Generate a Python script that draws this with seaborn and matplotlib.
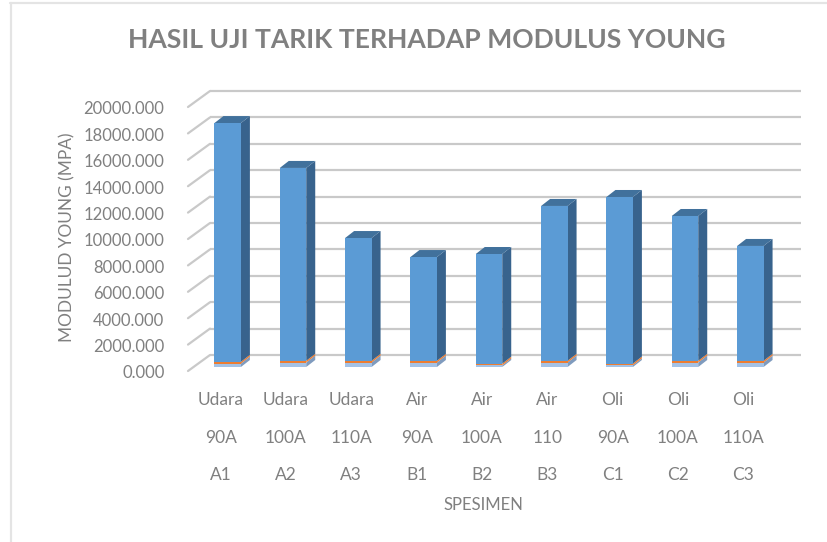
import matplotlib
matplotlib.use("Agg")
import matplotlib.pyplot as plt
import matplotlib.transforms as mtransforms
from matplotlib.colors import to_hex
from matplotlib.lines import Line2D
from matplotlib.patches import Polygon
import numpy as np
import seaborn as sns

media = ["Udara", "Udara", "Udara", "Air", "Air", "Air", "Oli", "Oli", "Oli"]
hardness = ["90A", "100A", "110A", "90A", "100A", "110", "90A", "100A", "110A"]
codes = ["A1", "A2", "A3", "B1", "B2", "B3", "C1", "C2", "C3"]
base_values = [260, 340, 340, 340, 120, 340, 130, 340, 340]
thin_values = [130, 130, 130, 130, 130, 130, 130, 130, 130]
modulus_values = [18090, 14610, 9300, 7860, 8310, 11730, 12620, 10970, 8700]
yticks = [0, 2000, 4000, 6000, 8000, 10000, 12000, 14000, 16000, 18000, 20000]

W, H = 828, 542
sns.set_theme(style="white")
plt.rcParams["font.family"] = ["Lato", "DejaVu Sans"]
GREY = "#808080"
PIXELS = mtransforms.IdentityTransform()

fig = plt.figure(figsize=(W / 100, H / 100), dpi=100)
ax = fig.add_axes([195 / W, 1 - 371 / H, 588 / W, 264 / H])
ax.patch.set_alpha(0)


def shifted(dx, dy):
    return mtransforms.offset_copy(ax.transData, fig, x=dx, y=dy, units="dots")


base = np.array(base_values)
thin = np.array(thin_values)
main = np.array(modulus_values)

bar_kws = dict(saturation=1, width=0.405, ax=ax, zorder=4, linewidth=0, edgecolor="none")
sns.barplot(x=codes, y=base, color="#A4C2E6", **bar_kws)
sns.barplot(x=codes, y=thin, bottom=base, color="#ED7D31", **bar_kws)
sns.barplot(x=codes, y=main, bottom=base + thin, color="#5B9BD5", **bar_kws)

ax.set_xlim(-0.5, 8.5)
ax.set_ylim(0, 20000)

# bars sit a little behind the front edge of the floor
front = shifted(0, 4)
side_colors = {"#a4c2e6": "#7F9BBE", "#ed7d31": "#ED7D31", "#5b9bd5": "#38638D"}
for p in list(ax.patches):
    x0, y0, w, h = p.get_x(), p.get_y(), p.get_width(), p.get_height()
    p.set_transform(front)
    hexcol = to_hex(p.get_facecolor())
    # depth faces are built from the bar itself, in display space
    a = front.transform([(x0 + w, y0), (x0 + w, y0 + h), (x0, y0 + h)])
    dx, dy = 9, 7
    side = [a[0], a[1], a[1] + [dx, dy], a[0] + [dx, dy]]
    ax.add_patch(Polygon(side, closed=True, transform=PIXELS, facecolor=side_colors[hexcol],
                         edgecolor="none", zorder=3))
    if hexcol == "#5b9bd5":
        top = [a[2], a[1], a[1] + [dx, dy], a[2] + [dx, dy]]
        ax.add_patch(Polygon(top, closed=True, transform=PIXELS, facecolor="#41719C",
                             edgecolor="none", zorder=3))

# gridlines: floor/back plane offset of the 3D box
back = shifted(15, 16)
xl, xr = ax.get_xlim()
for v in yticks:
    ax.plot([xl, xr + 0.04], [v, v], transform=back, color="#C9C9C9", lw=1.6, zorder=1,
            clip_on=False, solid_capstyle="butt")
    p0 = ax.transData.transform((xl, v))
    ax.add_line(Line2D([p0[0] - 7, p0[0] + 15], [p0[1], p0[1] + 16], transform=PIXELS,
                       color="#C9C9C9", lw=1.6, zorder=1, clip_on=False))

ax.set_yticks(yticks)
ax.set_yticklabels([f"{v:.3f}" for v in yticks], fontsize=12, color=GREY)
ax.set_xticks(range(len(codes)))
ax.set_xticklabels([f"{a}\n{b}\n{c}" for a, b, c in zip(media, hardness, codes)],
                   fontsize=12.5, color=GREY, linespacing=2.67)
ax.tick_params(axis="y", length=0, pad=22)
ax.tick_params(axis="x", length=0, pad=15)
for t in ax.get_xticklabels():
    t.set_transform(t.get_transform() + mtransforms.Affine2D().translate(-7, 0))
for t in ax.get_yticklabels():
    t.set_transform(t.get_transform() + mtransforms.Affine2D().translate(0, -1))
sns.despine(ax=ax, left=True, bottom=True)
ax.set_xlabel("")
ax.set_ylabel("")

fig.text(128 / W, 1 - 40 / H, "HASIL UJI TARIK TERHADAP MODULUS YOUNG", fontsize=19.1,
         fontweight="bold", color=GREY, ha="left", va="center")
fig.text(67 / W, 1 - 237 / H, "MODULUD YOUNG (MPA)", fontsize=12.4, color=GREY, rotation=90,
         ha="center", va="center")
fig.text(483 / W, 1 - 505 / H, "SPESIMEN", fontsize=12, color=GREY, ha="center", va="center")

# chart frame
fig.add_artist(Line2D([10.5 / W, 10.5 / W], [0, 1 - 3 / H], color="#E4E4E4", lw=1.6))
fig.add_artist(Line2D([10 / W, 1], [1 - 3 / H, 1 - 3 / H], color="#E4E4E4", lw=1.6))

fig.savefig("out.png", dpi=100)
